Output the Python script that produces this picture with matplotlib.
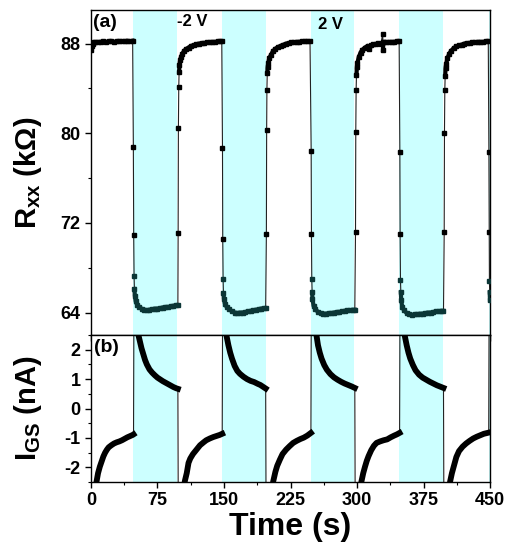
import numpy as np
import matplotlib.pyplot as plt
from matplotlib.ticker import MultipleLocator

plt.rcParams['font.family'] = ['Liberation Sans', 'DejaVu Sans']
plt.rcParams['axes.unicode_minus'] = False
plt.rcParams['mathtext.fontset'] = 'custom'
plt.rcParams['mathtext.rm'] = 'Liberation Sans'
plt.rcParams['mathtext.bf'] = 'Liberation Sans:bold'

# gate pulse windows (s)
bands = [(47.7, 97.3), (148.0, 197.0), (247.8, 297.0), (347.7, 396.6), (448.8, 450.0)]

# R_xx (kOhm) vs time
t_r = [0, 1, 2, 3, 5, 8, 11, 14, 17, 20, 23, 26, 29, 32, 35, 38, 41, 44, 47,
       47.8, 48.2, 48.6, 49.0, 49.5, 50.5, 52, 54, 57, 60, 63, 66, 69, 72, 75, 78, 81, 84, 87, 90, 93, 96, 98,
       98.3, 98.6, 99.0, 99.4, 99.8, 100.5, 101.5, 103, 105, 107, 110, 113, 116, 119, 122, 125, 128, 131, 134,
       137, 140, 143, 146, 147.5,
       148.3, 148.6, 149.0, 149.4, 150, 151, 153, 156, 159, 162, 165, 168, 171, 174, 177, 180, 183, 186, 189,
       192, 195, 197,
       197.8, 198.1, 198.4, 198.8, 199.2, 200, 201, 203, 205, 208, 211, 214, 217, 220, 223, 226, 229, 232, 235,
       238, 241, 244, 247,
       248.3, 248.6, 249.0, 249.4, 249.8, 251, 253, 256, 259, 262, 265, 268, 271, 274, 277, 280, 283, 286, 289,
       292, 295, 297.5,
       298.3, 298.6, 299.0, 299.4, 299.8, 300.5, 302, 304, 306, 309, 312, 314, 316, 318, 321, 324, 327, 329,
       329.3, 329.6, 330, 333, 336, 339, 342, 345, 347.5,
       348.3, 348.6, 349.0, 349.4, 349.8, 351, 353, 356, 359, 362, 365, 368, 371, 374, 377, 380, 383, 386, 389,
       392, 395, 397.5,
       398.3, 398.6, 399.0, 399.4, 399.8, 400.5, 402, 404, 406, 409, 412, 415, 418, 421, 424, 427, 430, 433, 436,
       439, 442, 445, 448,
       448.7, 449.0, 449.3, 449.6, 449.9]
r_xx = [87.4, 87.8, 88.0, 88.1, 88.1, 88.15, 88.15, 88.2, 88.15, 88.2, 88.2, 88.15, 88.2, 88.2, 88.2, 88.2, 88.25, 88.2, 88.25,
        78.8, 70.9, 67.3, 66.1, 65.5, 65.0, 64.7, 64.5, 64.35, 64.25, 64.2, 64.25, 64.3, 64.35, 64.35, 64.4, 64.45, 64.5, 64.5, 64.55, 64.6, 64.65, 64.65,
        71.1, 80.5, 84.1, 85.5, 86.1, 86.5, 86.8, 87.1, 87.35, 87.5, 87.65, 87.8, 87.85, 87.95, 88.0, 88.05, 88.05, 88.1, 88.1,
        88.15, 88.15, 88.2, 88.2, 88.2,
        78.7, 70.6, 67.0, 65.7, 65.2, 64.8, 64.5, 64.3, 64.1, 64.0, 63.95, 64.0, 64.0, 64.05, 64.1, 64.15, 64.2, 64.25, 64.3,
        64.35, 64.4, 64.4,
        71.0, 80.3, 83.9, 85.35, 85.9, 86.3, 86.7, 87.0, 87.3, 87.55, 87.7, 87.8, 87.9, 88.0, 88.05, 88.1, 88.1, 88.15, 88.15,
        88.2, 88.2, 88.2, 88.2,
        78.4, 71.0, 67.0, 65.8, 65.2, 64.6, 64.3, 64.05, 63.95, 63.9, 63.9, 63.95, 63.95, 64.0, 64.05, 64.05, 64.1, 64.15, 64.2,
        64.2, 64.25, 64.25,
        71.2, 80.1, 83.9, 85.2, 85.9, 86.3, 86.8, 87.2, 87.45, 87.65, 87.8, 87.5, 87.85, 87.95, 87.95, 88.05, 88.0, 88.9,
        87.4, 88.1, 88.1, 88.1, 88.15, 88.15, 88.15, 88.2, 88.2,
        78.3, 71.0, 66.9, 65.8, 65.1, 64.5, 64.2, 63.95, 63.85, 63.8, 63.85, 63.85, 63.9, 63.9, 63.95, 64.0, 64.0, 64.05, 64.1,
        64.1, 64.15, 64.15,
        71.2, 80.0, 83.9, 85.1, 85.8, 86.2, 86.7, 87.1, 87.35, 87.6, 87.75, 87.85, 87.9, 88.0, 88.05, 88.05, 88.1, 88.1, 88.15,
        88.15, 88.15, 88.2, 88.2,
        78.3, 71.2, 66.8, 65.8, 65.1]

# I_GS (nA) vs time
t_i = [5, 6.5, 8, 10, 12, 14, 16, 18, 20, 23, 26, 29, 32, 35, 38, 41, 44, 47, 48,
       48.5, 52, 53.5, 55, 57, 59, 61, 63, 66, 69, 72, 75, 78, 81, 84, 87, 90, 93, 96, 98,
       98.5, 104, 106, 108, 110, 112, 115, 119, 123, 127, 130, 134, 138, 142, 145, 148,
       148.5, 152, 153, 155, 157, 159, 162, 165, 168, 172, 176, 180, 184, 188, 191, 194, 197,
       197.5, 204, 205.5, 208, 210, 213, 216, 220, 224, 228, 232, 236, 240, 244, 248,
       248.5, 253, 254.5, 256, 258, 260, 263, 266, 270, 274, 278, 282, 286, 290, 294, 297.5,
       298, 303.5, 305, 307, 309, 311, 313, 316, 319, 322, 326, 330, 334, 338, 342, 345, 348,
       348.5, 352.5, 354, 356, 358, 360, 363, 366, 370, 374, 378, 382, 386, 390, 394, 397.5,
       398, 403.5, 405, 407, 409, 412, 415, 419, 423, 427, 431, 435, 439, 443, 447, 448.5,
       449, 450]
i_gs = [-2.7, -2.45, -2.2, -1.98, -1.8, -1.63, -1.5, -1.4, -1.32, -1.25, -1.19, -1.15, -1.12, -1.08, -1.03, -0.98, -0.94, -0.9, -0.88,
        4.0, 2.8, 2.5, 2.3, 2.05, 1.85, 1.65, 1.5, 1.33, 1.22, 1.13, 1.05, 0.99, 0.93, 0.88, 0.83, 0.78, 0.73, 0.69, 0.67,
        -4.0, -2.8, -2.45, -2.2, -1.85, -1.7, -1.55, -1.4, -1.25, -1.15, -1.08, -1.02, -0.97, -0.93, -0.9, -0.86,
        4.0, 2.8, 2.45, 2.15, 1.9, 1.7, 1.45, 1.28, 1.18, 1.08, 1.0, 0.94, 0.9, 0.84, 0.8, 0.74, 0.68,
        -4.0, -2.8, -2.48, -2.15, -1.95, -1.74, -1.55, -1.4, -1.28, -1.17, -1.1, -1.04, -0.99, -0.92, -0.83,
        4.0, 2.8, 2.45, 2.15, 1.9, 1.7, 1.48, 1.32, 1.17, 1.06, 0.98, 0.91, 0.85, 0.8, 0.75, 0.7,
        -4.0, -2.8, -2.48, -2.2, -1.98, -1.78, -1.62, -1.42, -1.27, -1.17, -1.12, -1.08, -1.05, -0.98, -0.92, -0.88, -0.83,
        4.0, 2.8, 2.45, 2.15, 1.9, 1.7, 1.48, 1.3, 1.15, 1.05, 0.98, 0.91, 0.85, 0.79, 0.74, 0.7,
        -4.0, -2.8, -2.48, -2.2, -1.98, -1.65, -1.45, -1.3, -1.19, -1.1, -1.02, -0.96, -0.91, -0.86, -0.83, -0.82,
        4.0, 4.0]


def break_jumps(t, y, limit):
    # insert NaN where the curve jumps, so the thick trace only covers smooth parts
    t = np.asarray(t, float)
    y = np.asarray(y, float)
    cut = np.where(np.abs(np.diff(y)) > limit)[0] + 1
    return np.insert(t, cut, np.nan), np.insert(y, cut, np.nan)


fig = plt.figure(figsize=(5.11, 5.42), dpi=100)
ax1 = fig.add_axes([0.178, 0.382, 0.781, 0.5996])
ax2 = fig.add_axes([0.178, 0.1107, 0.781, 0.2712], sharex=ax1)

band_color = '#ccffff'
for ax in (ax1, ax2):
    for a, b in bands:
        ax.axvspan(a, b, color=band_color, lw=0, zorder=0)

# panel (a)
teal = '#0b3636'
ax1.plot(t_r, r_xx, color='#222222', lw=0.8, zorder=2)
tt, rr = break_jumps(t_r, r_xx, 0.9)
rr_hi = np.where(rr > 70, rr, np.nan)
rr_lo = np.where(rr < 70, rr, np.nan)
ax1.plot(tt, rr_hi, color='black', lw=3.0, zorder=3)
ax1.plot(tt, rr_lo, color=teal, lw=3.0, zorder=3)
r_arr = np.array(r_xx)
t_arr = np.array(t_r)
ax1.plot(t_arr[r_arr > 70], r_arr[r_arr > 70], 's', color='black', ms=3, zorder=4)
ax1.plot(t_arr[r_arr < 70], r_arr[r_arr < 70], 's', color=teal, ms=3, zorder=4)

ax1.set_xlim(0, 450)
ax1.set_ylim(62, 91)
ax1.set_yticks([64, 72, 80, 88])
ax1.yaxis.set_minor_locator(MultipleLocator(4))
ax1.tick_params(axis='x', labelbottom=False)
ax1.set_ylabel(r'R$_{\mathregular{xx}}$ (k$\mathbf{\Omega}$)', fontsize=21, fontweight='bold')
ax1.text(2, 90.6, '(a)', fontsize=14, fontweight='bold', va='top', ha='left')
ax1.text(97, 90.6, '-2 V', fontsize=12, fontweight='bold', va='top', ha='left')
ax1.text(256, 90.4, '2 V', fontsize=12, fontweight='bold', va='top', ha='left')

# panel (b)
ax2.plot(t_i, i_gs, color='#222222', lw=0.8, zorder=2)
ti, ii = break_jumps(t_i, i_gs, 1.5)
ax2.plot(ti, ii, color='black', lw=4.2, zorder=3)
ax2.set_ylim(-2.5, 2.5)
ax2.set_yticks([-2, -1, 0, 1, 2])
ax2.yaxis.set_minor_locator(MultipleLocator(0.5))
ax2.set_xticks([0, 75, 150, 225, 300, 375, 450])
ax2.xaxis.set_minor_locator(MultipleLocator(37.5))
ax2.set_xlabel('Time (s)', fontsize=23, fontweight='bold', labelpad=2)
ax2.set_ylabel(r'I$_{\mathregular{GS}}$ (nA)', fontsize=21, fontweight='bold')
ax2.text(3, 2.35, '(b)', fontsize=14, fontweight='bold', va='top', ha='left')

for ax in (ax1, ax2):
    ax.tick_params(which='major', direction='out', length=4, width=1, labelsize=13)
    ax.tick_params(which='minor', direction='out', length=2.5, width=0.8)
    ax.tick_params(top=False, right=False, which='both')
    for lab in ax.get_xticklabels() + ax.get_yticklabels():
        lab.set_fontweight('bold')
    for s in ax.spines.values():
        s.set_linewidth(1.0)

ax1.yaxis.set_label_coords(-0.118, 0.5)
ax2.yaxis.set_label_coords(-0.118, 0.5)

fig.savefig('out.png', dpi=100)
